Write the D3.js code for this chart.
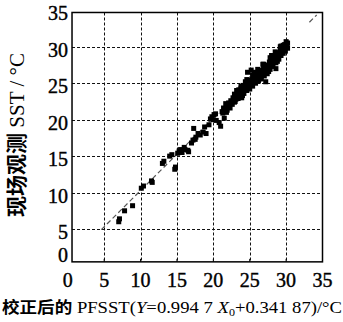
<!DOCTYPE html>
<html>
<head>
<meta charset="utf-8">
<script src="https://cdn.jsdelivr.net/npm/d3@7"></script>
<style>
  html, body { margin: 0; padding: 0; background: #fff; }
  svg { display: block; }
</style>
</head>
<body>
<div id="chart"></div>
<script>
// ticks
const xTicks = [0, 5, 10, 15, 20, 25, 30, 35];
const yTicks = [0, 5, 10, 15, 20, 25, 30, 35];
const gridTicks = [5, 10, 15, 20, 25, 30];

// fitted line Y = 0.9947 X0 + 0.34187 (only these stretches show in the figure)
const fitSlope = 0.9947;
const fitIntercept = 0.34187;
const fitSegments = [[4.6, 30.4], [33.2, 34.2]];

// corrected PFSST (x) vs in situ SST (y)
const pfsst = [
  7.0, 7.1, 7.8, 8.9, 10.1, 10.4, 11.6, 11.5, 13.0, 13.2, 14.0, 14.3, 14.7, 14.8, 15.1, 15.3,
  15.7, 16.1, 16.5, 16.6, 17.0, 17.2, 17.3, 17.6, 17.9, 18.2, 18.6, 19.0, 18.8, 19.4, 19.8, 20.0,
  20.3, 20.4, 20.8, 21.0, 21.2, 21.5, 21.6, 21.8, 22.0, 22.1, 22.3, 22.4, 22.6, 22.7, 22.9, 23.0,
  23.1, 23.3, 23.4, 23.5, 23.7, 23.8, 23.9, 24.0, 24.1, 24.2, 24.4, 24.5, 24.6, 24.8, 24.9, 25.0,
  25.1, 25.2, 25.3, 25.4, 25.6, 25.7, 25.8, 26.0, 26.1, 26.2, 26.4, 26.5, 26.6, 26.8, 26.9, 27.0,
  27.2, 27.2, 27.3, 27.4, 27.6, 27.7, 27.8, 28.0, 28.1, 28.2, 28.4, 28.5, 28.6, 28.8, 28.9, 29.0,
  29.1, 29.2, 29.3, 29.4, 29.5, 29.6, 29.7, 29.8, 29.9, 30.0, 30.1, 30.2, 30.0, 29.8, 29.6, 24.7,
  28.6, 22.2, 22.5, 22.8, 23.2, 23.6, 24.3, 24.7, 25.5, 25.9, 26.3, 26.7, 27.1, 27.5, 27.9, 28.3,
  28.7, 29.0, 29.4, 29.7, 30.1, 21.4, 21.9, 23.0, 24.0, 25.3, 26.4, 27.6, 28.8, 21.7, 23.2, 24.4,
  25.6, 26.8, 28.0, 29.2, 15.5, 16.0, 17.5, 19.6, 20.1, 22.9, 23.8, 24.6, 25.4, 26.1, 26.9, 27.8,
  28.5, 29.3, 30.2, 21.3
];
const insitu = [
  6.0, 6.4, 7.5, 8.2, 10.6, 10.9, 11.4, 11.6, 14.0, 14.3, 15.0, 15.2, 13.2, 13.5, 15.4, 15.7,
  15.5, 15.9, 15.8, 15.6, 16.8, 17.2, 18.8, 17.6, 18.1, 17.9, 18.3, 18.1, 19.0, 19.3, 20.4, 20.0,
  20.8, 19.9, 19.6, 19.1, 21.1, 20.2, 21.4, 21.0, 21.8, 22.3, 21.6, 22.6, 22.1, 23.0, 22.4, 23.3,
  22.8, 23.6, 22.9, 24.1, 23.4, 24.3, 23.0, 24.0, 24.7, 23.6, 24.3, 25.0, 24.0, 24.7, 25.4, 24.2,
  25.0, 26.8, 25.6, 24.6, 25.3, 26.1, 25.0, 25.7, 26.4, 25.3, 26.0, 26.8, 25.6, 26.5, 27.2, 26.0,
  25.2, 26.8, 27.5, 26.3, 27.1, 27.9, 26.9, 27.6, 28.4, 27.3, 28.1, 28.8, 27.8, 28.5, 29.2, 28.3,
  29.0, 29.6, 28.8, 29.4, 30.0, 29.1, 29.7, 30.3, 29.4, 30.0, 30.5, 29.8, 30.7, 29.9, 30.2, 26.5,
  27.0, 22.0, 22.4, 22.7, 23.1, 23.7, 24.2, 24.6, 25.5, 25.9, 26.3, 26.7, 27.1, 27.4, 27.8, 28.2,
  28.7, 29.0, 29.2, 30.0, 30.2, 21.6, 21.3, 22.5, 23.3, 24.9, 25.6, 26.6, 28.0, 22.2, 24.0, 25.2,
  26.5, 27.6, 28.8, 30.0, 15.9, 16.2, 17.3, 20.1, 20.7, 23.5, 24.6, 25.5, 26.1, 26.9, 27.6, 28.5,
  29.3, 30.1, 30.5, 20.9
];

const width = 343;
const height = 322;

const x = d3.scaleLinear().domain([0, 35]).range([67.8, 322.5]);
const y = d3.scaleLinear().domain([0, 35]).range([265.5, 10.3]);

const svg = d3.select('#chart')
  .append('svg')
  .attr('width', width)
  .attr('height', height);

svg.append('rect').attr('width', width).attr('height', height).attr('fill', '#fff');

// plot frame edges (the frame sits a touch inside zero)
const fx0 = x(0.58), fx1 = x(35), fy0 = y(0.5), fy1 = y(34.7);

// dashed grid
const grid = svg.append('g')
  .attr('stroke', '#111')
  .attr('stroke-width', 1)
  .attr('stroke-dasharray', '3,2');

grid.selectAll('line.v')
  .data(gridTicks)
  .join('line')
    .attr('class', 'v')
    .attr('x1', d => Math.round(x(d)) + 0.5)
    .attr('x2', d => Math.round(x(d)) + 0.5)
    .attr('y1', fy1)
    .attr('y2', fy0);

grid.selectAll('line.h')
  .data(gridTicks)
  .join('line')
    .attr('class', 'h')
    .attr('y1', d => Math.round(y(d)) + 0.5)
    .attr('y2', d => Math.round(y(d)) + 0.5)
    .attr('x1', fx0)
    .attr('x2', fx1);

// fitted line
svg.append('g')
  .selectAll('line')
  .data(fitSegments)
  .join('line')
    .attr('x1', d => x(d[0]))
    .attr('y1', d => y(fitSlope * d[0] + fitIntercept))
    .attr('x2', d => x(d[1]))
    .attr('y2', d => y(fitSlope * d[1] + fitIntercept))
    .attr('stroke', '#555')
    .attr('stroke-width', 1.2)
    .attr('stroke-dasharray', '5,3');

// points
const pts = pfsst.map((v, i) => ({ x: v, y: insitu[i] }));
svg.append('g')
  .selectAll('rect')
  .data(pts)
  .join('rect')
    .attr('x', d => x(d.x) - 2.5)
    .attr('y', d => y(d.y) - 2.5)
    .attr('width', 5)
    .attr('height', 5)
    .attr('fill', '#000');

// frame
svg.append('rect')
  .attr('x', fx0)
  .attr('y', fy1)
  .attr('width', fx1 - fx0)
  .attr('height', fy0 - fy1)
  .attr('fill', 'none')
  .attr('stroke', '#000')
  .attr('stroke-width', 1.5);

// small ticks on bottom axis
svg.append('g')
  .selectAll('line')
  .data(gridTicks)
  .join('line')
    .attr('x1', d => x(d))
    .attr('x2', d => x(d))
    .attr('y1', fy0)
    .attr('y2', fy0 - 3)
    .attr('stroke', '#000');

// tick labels
const tickFont = '"Liberation Serif", "DejaVu Serif", serif';
svg.append('g')
  .selectAll('text')
  .data(xTicks)
  .join('text')
    .attr('x', d => x(d))
    .attr('y', 287)
    .attr('text-anchor', 'middle')
    .attr('font-family', tickFont)
    .attr('font-size', 20)
    .attr('stroke', '#000')
    .attr('stroke-width', 0.4)
    .text(d => d);

svg.append('g')
  .selectAll('text')
  .data(yTicks)
  .join('text')
    .attr('x', 68)
    .attr('y', d => d === 0 ? 262 : y(d) + 10)
    .attr('text-anchor', 'end')
    .attr('font-family', tickFont)
    .attr('font-size', 20)
    .attr('stroke', '#000')
    .attr('stroke-width', 0.4)
    .text(d => d);

// y axis title
const yTitle = svg.append('text')
  .attr('transform', 'translate(24,135) rotate(-90)')
  .attr('text-anchor', 'middle')
  .attr('font-size', 21);
yTitle.append('tspan')
  .attr('font-family', '"Noto Sans CJK SC", sans-serif')
  .attr('font-weight', 'bold')
  .text('现场观测');
yTitle.append('tspan')
  .attr('font-family', tickFont)
  .text(' SST / °C');

// x axis title
const xTitle = svg.append('text')
  .attr('x', 2)
  .attr('y', 313)
  .attr('font-size', 16)
  .attr('textLength', 340)
  .attr('lengthAdjust', 'spacingAndGlyphs');
xTitle.append('tspan')
  .attr('font-family', '"Noto Sans CJK SC", sans-serif')
  .attr('font-weight', 'bold')
  .text('校正后的');
xTitle.append('tspan')
  .attr('font-family', tickFont)
  .attr('font-size', 17)
  .text(' PFSST(');
xTitle.append('tspan')
  .attr('font-family', tickFont)
  .attr('font-size', 17)
  .attr('font-style', 'italic')
  .text('Y');
xTitle.append('tspan')
  .attr('font-family', tickFont)
  .attr('font-size', 17)
  .text('=0.994 7 ');
xTitle.append('tspan')
  .attr('font-family', tickFont)
  .attr('font-size', 17)
  .attr('font-style', 'italic')
  .text('X');
xTitle.append('tspan')
  .attr('font-family', tickFont)
  .attr('font-size', 11)
  .attr('dy', 3)
  .text('0');
xTitle.append('tspan')
  .attr('font-family', tickFont)
  .attr('font-size', 17)
  .attr('dy', -3)
  .text('+0.341 87)/°C');
</script>
</body>
</html>
